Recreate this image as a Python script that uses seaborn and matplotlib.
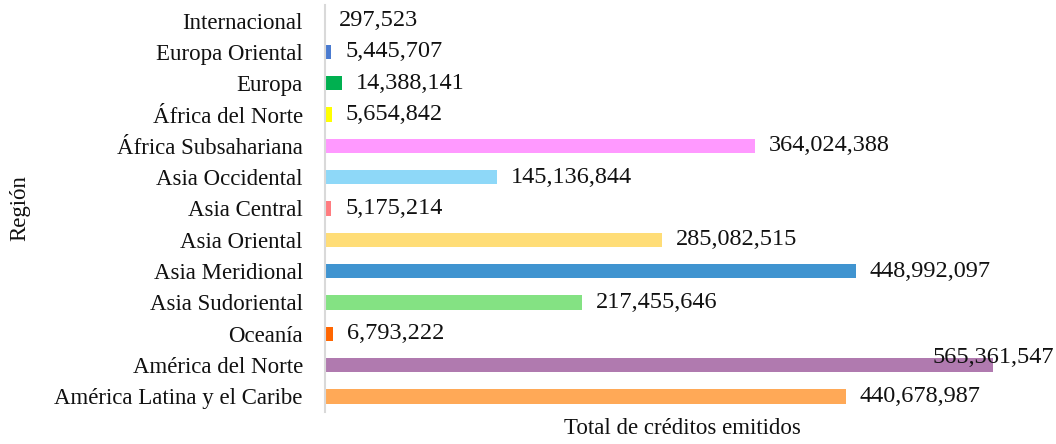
import matplotlib
matplotlib.use("Agg")
import matplotlib.pyplot as plt
import pandas as pd
import seaborn as sns

regiones = [
    "Internacional", "Europa Oriental", "Europa", "África del Norte",
    "África Subsahariana", "Asia Occidental", "Asia Central", "Asia Oriental",
    "Asia Meridional", "Asia Sudoriental", "Oceanía", "América del Norte",
    "América Latina y el Caribe",
]
creditos = [
    297523, 5445707, 14388141, 5654842,
    364024388, 145136844, 5175214, 285082515,
    448992097, 217455646, 6793222, 565361547,
    440678987,
]
colores = [
    "#7F7F7F", "#4A7BD0", "#00B050", "#FFFF00",
    "#FF99FF", "#8ED8F8", "#FF7C80", "#FFDD77",
    "#4094D0", "#84E283", "#FF6600", "#B07AAF",
    "#FFA957",
]

df = pd.DataFrame({"region": regiones, "creditos": creditos})

sns.set_theme(style="white")
plt.rcParams["font.family"] = ["Liberation Serif", "DejaVu Serif"]

fig = plt.figure(figsize=(10.56, 4.44), dpi=100)
ax = fig.add_axes([325 / 1056, 32 / 444, 715 / 1056, 407 / 444])

sns.barplot(data=df, y="region", x="creditos", hue="region",
            palette=colores, order=regiones, hue_order=regiones,
            width=0.46, legend=False, ax=ax, saturation=1, linewidth=0)

xmax = 605e6
ax.set_xlim(0, xmax)
ax.set_ylim(len(regiones) - 0.5, -0.5)

for i, v in enumerate(creditos):
    txt = f"{v:,}"
    if v > 0.9 * xmax:
        ax.annotate(txt, (xmax, i), xytext=(10, -2), textcoords="offset points",
                    ha="right", va="bottom", fontsize=17.5, color="#111111")
    else:
        ax.annotate(txt, (v, i), xytext=(10, 0), textcoords="offset points",
                    ha="left", va="center", fontsize=17.5, color="#111111")

for s in ["top", "right", "bottom"]:
    ax.spines[s].set_visible(False)
ax.spines["left"].set_color("#D9D9D9")
ax.spines["left"].set_linewidth(1.5)

ax.set_xticks([])
ax.tick_params(axis="y", length=0, pad=16, labelsize=16.5, labelcolor="#111111")
ax.set_ylabel("Región", fontsize=16.5, color="#111111")
ax.set_xlabel("Total de créditos emitidos", fontsize=16.5, color="#111111", labelpad=4)
ax.yaxis.set_label_coords(-295 / 715, 0.5)

fig.savefig("out.png", dpi=100)
